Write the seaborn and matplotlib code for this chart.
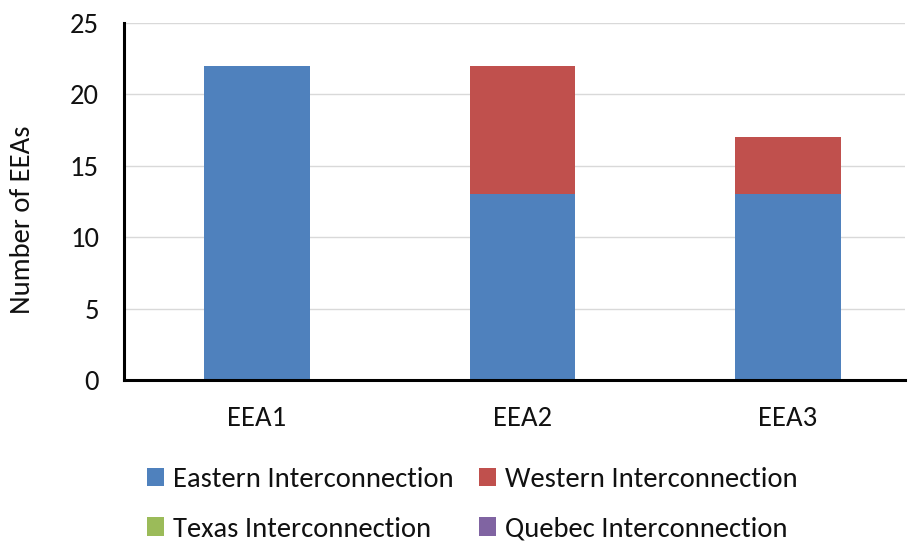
import matplotlib
matplotlib.use("Agg")
import matplotlib.pyplot as plt
import seaborn as sns
import pandas as pd
import numpy as np
from matplotlib.patches import Patch

categories = ["EEA1", "EEA2", "EEA3"]
series_names = ["Eastern Interconnection", "Western Interconnection",
                "Texas Interconnection", "Quebec Interconnection"]
eastern = [22, 13, 13]
western = [0, 9, 4]
texas = [0, 0, 0]
quebec = [0, 0, 0]
colors = ["#4F81BD", "#C0504D", "#9BBB59", "#8064A2"]
yticks = [0, 5, 10, 15, 20, 25]

sns.set_theme(style="white")
plt.rcParams['font.family'] = ['Carlito', 'DejaVu Sans']
FS = 20.6
TXT = "#111111"

fig = plt.figure(figsize=(9.11, 5.42), dpi=100)
ax = fig.add_axes([124/911, 1-380/542, (905-124)/911, (380-23)/542])

values = [eastern, western, texas, quebec]
cum = np.cumsum(np.array(values), axis=0)
for i in range(len(series_names) - 1, -1, -1):
    df = pd.DataFrame({"cat": categories, "val": cum[i]})
    sns.barplot(data=df, x="cat", y="val", color=colors[i], width=0.398,
                saturation=1, ax=ax, linewidth=0, zorder=2)

ax.set_xlim(-0.5, 2.44)
ax.set_ylim(0, 25)
ax.set_yticks(yticks)
ax.yaxis.grid(True, color="#D9D9D9", linewidth=1, zorder=0)
ax.set_axisbelow(True)
for s in ["top", "right"]:
    ax.spines[s].set_visible(False)
for s in ["left", "bottom"]:
    ax.spines[s].set_color("black")
    ax.spines[s].set_linewidth(2.2)
ax.tick_params(axis="x", length=0, labelsize=FS, colors=TXT, pad=19)
ax.tick_params(axis="y", length=0, labelsize=FS, colors=TXT, pad=18)
ax.set_xlabel("")
ax.set_ylabel("")
fig.text(23/911, 1-220/542, "Number of EEAs", rotation=90, ha="center",
         va="center", fontsize=FS, color=TXT)

order = [0, 2, 1, 3]
handles = [Patch(facecolor=colors[i], edgecolor="none") for i in order]
labels = [series_names[i] for i in order]
leg = fig.legend(handles, labels, loc="upper left",
                 bbox_to_anchor=(147/911, 1-467/542), ncol=2, frameon=False,
                 fontsize=FS, handlelength=0.6, handleheight=0.6,
                 handletextpad=0.3, columnspacing=0.9, labelspacing=0.86,
                 borderaxespad=0, borderpad=0)
for t in leg.get_texts():
    t.set_color(TXT)

fig.savefig("out.png", dpi=100)
